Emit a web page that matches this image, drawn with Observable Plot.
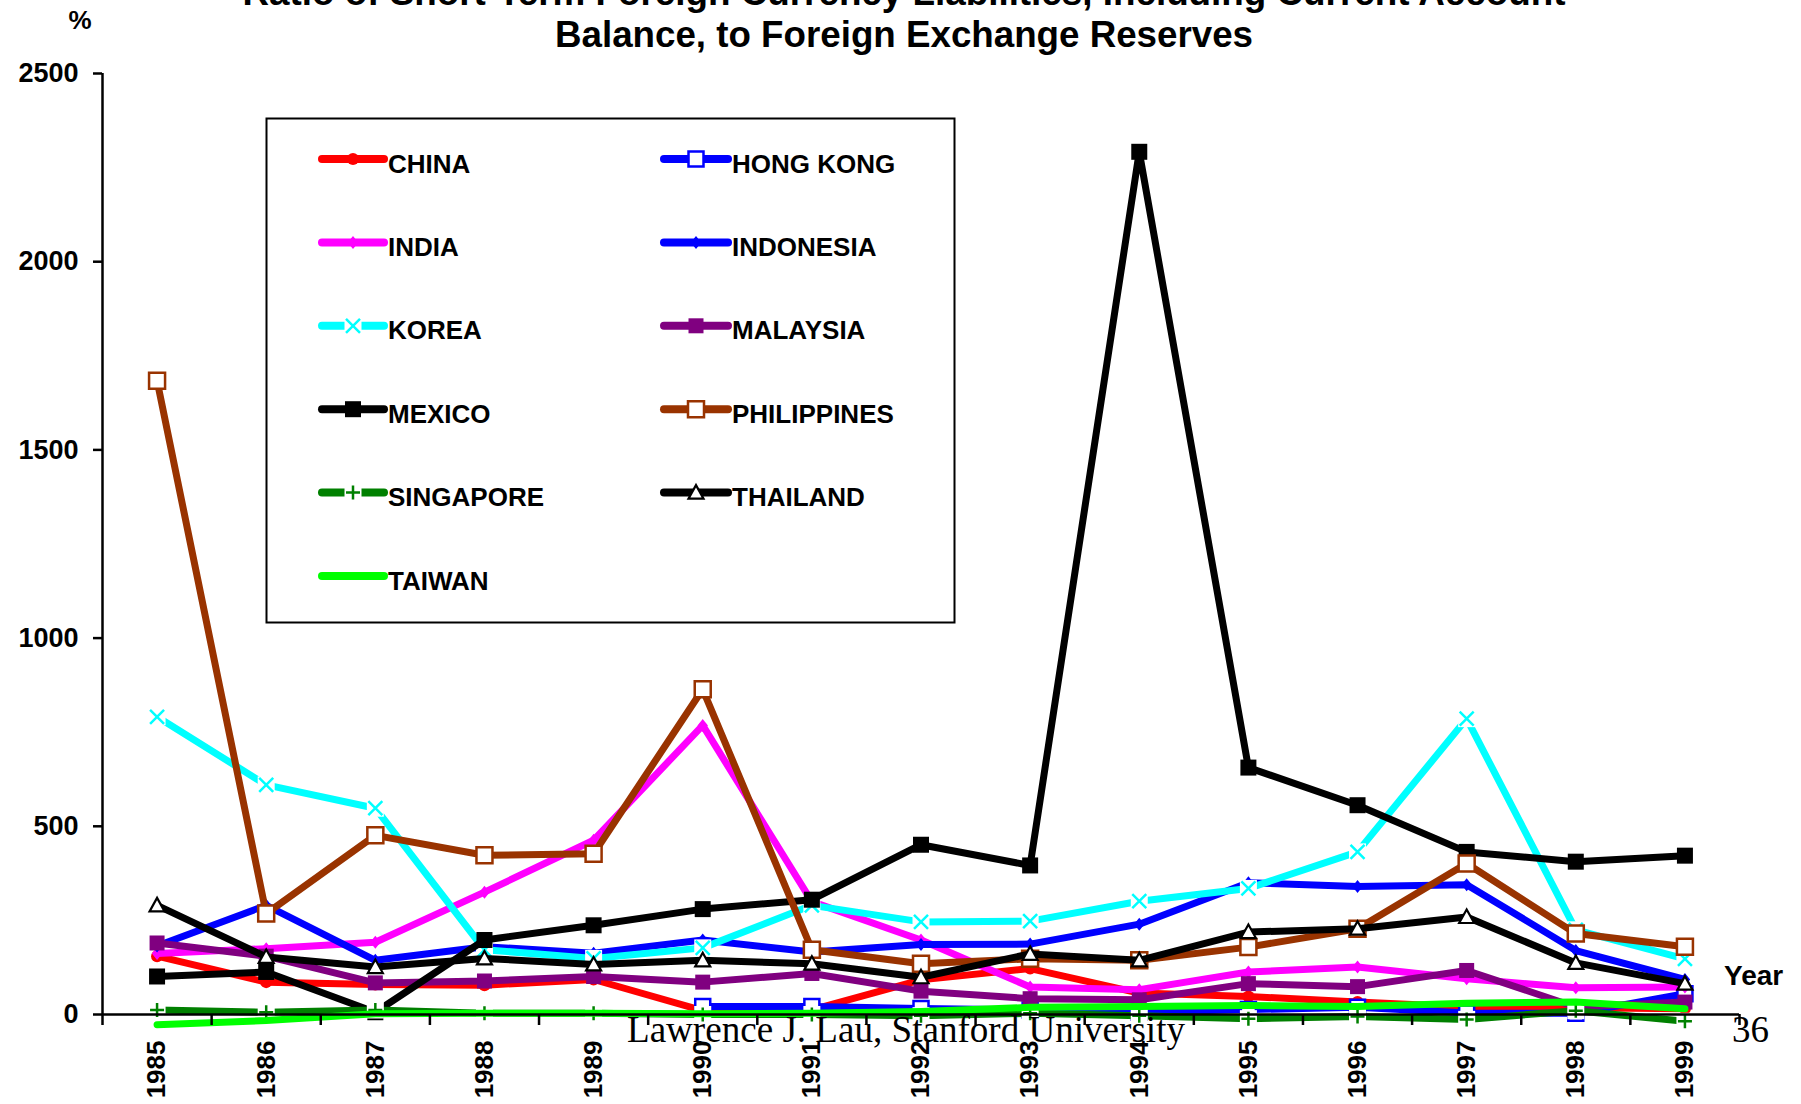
<!DOCTYPE html>
<html><head><meta charset="utf-8">
<script src="https://cdn.jsdelivr.net/npm/d3@7"></script>
<script src="https://cdn.jsdelivr.net/npm/@observablehq/plot@0.6"></script>
<style>
body{margin:0;background:#fff}
#wrap{position:relative;width:1801px;height:1104px;overflow:hidden;background:#fff}
#wrap svg{position:absolute;left:0;top:0}
</style>
</head><body><div id="wrap"></div>
<script>
// ---------- data ----------
const years = [1985,1986,1987,1988,1989,1990,1991,1992,1993,1994,1995,1996,1997,1998,1999];
const yTicks = [0,500,1000,1500,2000,2500];
const countries = ["CHINA","HONG KONG","INDIA","INDONESIA","KOREA","MALAYSIA","MEXICO","PHILIPPINES","SINGAPORE","THAILAND","TAIWAN"];
const china       = [155, 86, 80, 78, 93, 10, 12, 92, 122, 57, 48, 33, 20, 18, 15];
const hongKong    = [null, null, null, null, null, 21, 21, 16, 12, 6, 13, 19, 4, 3, 55];
const india       = [162, 175, 192, 325, 463, 768, 300, 198, 73, 66, 113, 126, 95, 71, 73];
const indonesia   = [182, 290, 144, 180, 163, 198, 166, 186, 187, 240, 350, 340, 345, 170, 93];
const korea       = [791, 610, 548, 172, 149, 177, 290, 246, 248, 301, 335, 432, 786, 225, 148];
const malaysia    = [190, 155, 84, 89, 101, 86, 109, 62, 42, 39, 82, 74, 117, 20, 33];
const mexico      = [101, 113, 6, 198, 237, 280, 305, 451, 396, 2292, 656, 556, 432, 406, 422];
const philippines = [1684, 268, 476, 423, 427, 864, 172, 135, 148, 144, 179, 228, 401, 215, 180];
const singapore   = [12, 6, 12, 3, 3, 0, 0, -3, 3, -3, -11, -5, -13, 10, -18];
const thailand    = [290, 153, 126, 149, 133, 144, 135, 99, 161, 144, 219, 228, 259, 137, 82];
const taiwan      = [-27, -16, 2, 3, 3, 2, 3, 8, 19, 21, 24, 21, 30, 33, 15];
const valueArrays = [china, hongKong, india, indonesia, korea, malaysia, mexico, philippines, singapore, thailand, taiwan];

// ---------- styles ----------
const styleByCountry = {
  "CHINA":       {color:"#FF0000", marker:"circle",   r:6,   fill:"#FF0000", stroke:"none"},
  "HONG KONG":   {color:"#0000FF", marker:"square",   r:7.5, fill:"#FFFFFF", stroke:"#0000FF", sw:2.5},
  "INDIA":       {color:"#FF00FF", marker:"diamond",  r:6.5, fill:"#FF00FF", stroke:"none"},
  "INDONESIA":   {color:"#0000FF", marker:"diamond",  r:6.5, fill:"#0000FF", stroke:"none"},
  "KOREA":       {color:"#00FFFF", marker:"times",    r:7,   fill:"none",    stroke:"#00FFFF", sw:2.5, bg:8.5},
  "MALAYSIA":    {color:"#800080", marker:"square",   r:7.5, fill:"#800080", stroke:"none"},
  "MEXICO":      {color:"#000000", marker:"square",   r:8,   fill:"#000000", stroke:"none"},
  "PHILIPPINES": {color:"#993300", marker:"square",   r:8,   fill:"#FFFFFF", stroke:"#993300", sw:2.5},
  "SINGAPORE":   {color:"#008000", marker:"plus",     r:7,   fill:"none",    stroke:"#008000", sw:2.5, bg:8.5},
  "THAILAND":    {color:"#000000", marker:"triangle", r:7.5, fill:"#FFFFFF", stroke:"#000000", sw:2.2},
  "TAIWAN":      {color:"#00FF00", marker:null}
};
const SYM = {
  circle:  {draw(c,s){const r=Math.sqrt(s/Math.PI); c.moveTo(r,0); c.arc(0,0,r,0,2*Math.PI);}},
  square:  {draw(c,s){const r=Math.sqrt(s/Math.PI); c.rect(-r,-r,2*r,2*r);}},
  diamond: {draw(c,s){const r=Math.sqrt(s/Math.PI); c.moveTo(0,-r); c.lineTo(r*0.8,0); c.lineTo(0,r); c.lineTo(-r*0.8,0); c.closePath();}},
  triangle:{draw(c,s){const r=Math.sqrt(s/Math.PI); c.moveTo(0,-r); c.lineTo(r,r*0.8); c.lineTo(-r,r*0.8); c.closePath();}},
  times:   {draw(c,s){const r=Math.sqrt(s/Math.PI); c.moveTo(-r,-r); c.lineTo(r,r); c.moveTo(-r,r); c.lineTo(r,-r);}},
  plus:    {draw(c,s){const r=Math.sqrt(s/Math.PI); c.moveTo(-r,0); c.lineTo(r,0); c.moveTo(0,-r); c.lineTo(0,r);}}
};

const FONT = "'Liberation Sans', Arial, sans-serif";
const table = [];
countries.forEach((c, k) => years.forEach((y, i) => {
  const v = valueArrays[k][i];
  if (v != null) table.push({country:c, year:y, value:v});
}));

const marks = [];
countries.forEach(c => {
  const st = styleByCountry[c];
  const rows = table.filter(d => d.country === c);
  marks.push(Plot.line(rows, {x:"year", y:"value", stroke:st.color, strokeWidth:7, strokeLinejoin:"round", strokeLinecap:"round"}));
  if (st.bg) marks.push(Plot.dot(rows, {x:"year", y:"value", symbol:SYM.square, r:st.bg, fill:"#FFFFFF", stroke:"none"}));
  if (st.marker) marks.push(Plot.dot(rows, {x:"year", y:"value", symbol:SYM[st.marker], r:st.r, fill:st.fill, stroke:st.stroke, strokeWidth:st.sw || 0}));
});

const boundaries = years.map(y => y - 0.5).concat([years[years.length-1] + 0.5]);

const chart = Plot.plot({
  width: 1801, height: 1104,
  marginLeft: 102, marginRight: 62, marginTop: 73, marginBottom: 90,
  style: {fontFamily: FONT, fontWeight: "bold", color: "#000", background: "transparent"},
  x: {type: "linear", domain: [years[0] - 0.5, years[years.length-1] + 0.5], label: null},
  y: {domain: [0, 2500], label: null},
  marks: [
    ...marks,
    Plot.ruleY([0], {stroke:"#000", strokeWidth:2.5}),
    Plot.ruleX([years[0] - 0.5], {stroke:"#000", strokeWidth:2.5}),
    Plot.axisY({ticks: yTicks, tickSize: 9, tickPadding: 15, tickFormat: d => String(d), fontSize: 27, fontWeight: "bold", strokeWidth: 2.5, label: null}),
    Plot.axisX({ticks: boundaries, tickSize: 11, tickFormat: () => "", strokeWidth: 2.5, label: null}),
    Plot.axisX({ticks: years, tickSize: 0, tickPadding: 26, tickRotate: -90, tickFormat: d => String(d), fontSize: 26, fontWeight: "bold", label: null})
  ]
});
const wrap = document.getElementById("wrap");
wrap.appendChild(chart);

// ---------- overlay: legend, titles, footer ----------
const ov = d3.select(wrap).append("svg").attr("width", 1801).attr("height", 1104)
  .style("font-family", FONT).style("pointer-events", "none");

ov.append("rect").attr("x", 266.5).attr("y", 118.5).attr("width", 688).attr("height", 504)
  .attr("fill", "#fff").attr("stroke", "#000").attr("stroke-width", 2);

countries.forEach((c, i) => {
  const st = styleByCountry[c];
  const col = i % 2, row = Math.floor(i / 2);
  const x0 = col ? 664 : 322, x1 = col ? 728 : 384, tx = col ? 732 : 388;
  const yc = 163 + row * 83.4, yl = yc - 4, xm = (x0 + x1) / 2;
  const g = ov.append("g");
  g.append("line").attr("x1", x0).attr("x2", x1).attr("y1", yl).attr("y2", yl)
    .attr("stroke", st.color).attr("stroke-width", 8).attr("stroke-linecap", "round");
  if (st.bg) g.append("path").attr("transform", `translate(${xm},${yl})`)
    .attr("d", d3.symbol(SYM.square, Math.PI * st.bg * st.bg)()).attr("fill", "#fff");
  if (st.marker) g.append("path").attr("transform", `translate(${xm},${yl})`)
    .attr("d", d3.symbol(SYM[st.marker], Math.PI * st.r * st.r)())
    .attr("fill", st.fill).attr("stroke", st.stroke).attr("stroke-width", st.sw || 0);
  g.append("text").attr("x", tx).attr("y", yc + 9.5).attr("font-size", 26).attr("font-weight", "bold").text(c);
});

ov.append("text").attr("x", 904).attr("y", 5).attr("text-anchor", "middle")
  .attr("font-size", 36).attr("font-weight", "bold")
  .attr("textLength", 1323).attr("lengthAdjust", "spacingAndGlyphs")
  .text("Ratio of Short-Term Foreign Currency Liabilities, Including Current Account");
ov.append("text").attr("x", 904).attr("y", 47).attr("text-anchor", "middle")
  .attr("font-size", 36).attr("font-weight", "bold")
  .attr("textLength", 698).attr("lengthAdjust", "spacingAndGlyphs")
  .text("Balance, to Foreign Exchange Reserves");
ov.append("text").attr("x", 80).attr("y", 29).attr("text-anchor", "middle")
  .attr("font-size", 26).attr("font-weight", "bold").text("%");
ov.append("text").attr("x", 1724).attr("y", 985)
  .attr("font-size", 28).attr("font-weight", "bold").text("Year");
ov.append("text").attr("x", 627).attr("y", 1042)
  .attr("font-family", "'Liberation Serif', 'Times New Roman', serif").attr("font-size", 37)
  .attr("textLength", 558).attr("lengthAdjust", "spacingAndGlyphs")
  .text("Lawrence J. Lau, Stanford University");
ov.append("text").attr("x", 1732).attr("y", 1042)
  .attr("font-family", "'Liberation Serif', 'Times New Roman', serif").attr("font-size", 37)
  .text("36");
</script>
</body></html>
